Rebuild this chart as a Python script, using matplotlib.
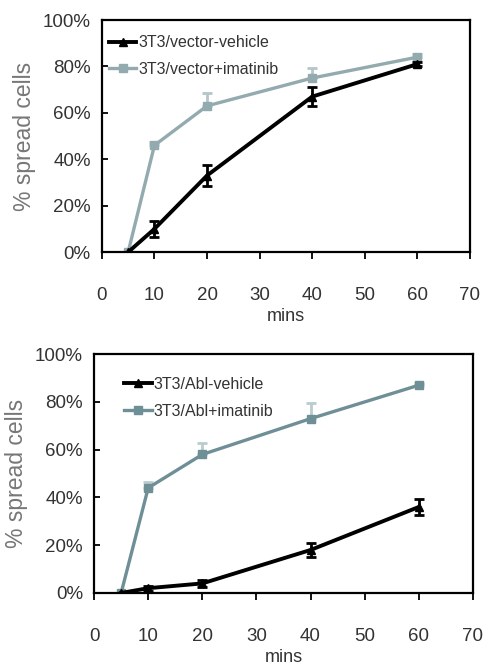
import matplotlib
matplotlib.use("Agg")
import matplotlib.pyplot as plt
from matplotlib.lines import Line2D
from matplotlib.ticker import PercentFormatter

FONT = "Liberation Sans"

# ---- data ----
mins = [5, 10, 20, 40, 60]

top_labels = ["3T3/vector-vehicle", "3T3/vector+imatinib"]
top_vehicle = [0, 10, 33, 67, 81]
top_vehicle_err = [0, 3.5, 4.5, 4, 1]
top_imatinib = [0, 46, 63, 75, 84]
top_imatinib_err = [0, 1.5, 5.5, 4.5, 1.5]

bot_labels = ["3T3/Abl-vehicle", "3T3/Abl+imatinib"]
bot_vehicle = [0, 2, 4, 18, 36]
bot_vehicle_err = [0, 1, 1.5, 3, 3.5]
bot_imatinib = [0, 44, 58, 73, 87]
bot_imatinib_err = [0, 2.5, 5, 6.5, 1]

xticks = [0, 10, 20, 30, 40, 50, 60, 70]
yticks = [0, 20, 40, 60, 80, 100]

fig = plt.figure(figsize=(4.85, 6.67), dpi=100)
ax1 = fig.add_axes([0.210, 0.622, 0.759, 0.348])
ax2 = fig.add_axes([0.194, 0.111, 0.781, 0.358])


def draw(ax, veh, veh_err, ima, ima_err, labels, gray, gray_err, leg_anchor):
    ax.errorbar(mins, ima, yerr=[[0] * len(ima_err), ima_err], color=gray,
                ecolor=gray_err, elinewidth=2, capsize=3.5, capthick=2,
                lw=2.4, marker="s", ms=6, zorder=2)
    ax.errorbar(mins, veh, yerr=veh_err, color="black", ecolor="black",
                elinewidth=2, capsize=3.5, capthick=2, lw=2.8, marker="^",
                ms=6, zorder=3)
    ax.set_xlim(0, 70)
    ax.set_ylim(0, 100)
    ax.set_xticks(xticks)
    ax.set_yticks(yticks)
    ax.yaxis.set_major_formatter(PercentFormatter(decimals=0))
    for s in ax.spines.values():
        s.set_linewidth(1.6)
        s.set_color("black")
    ax.tick_params(axis="x", direction="out", length=5, width=1.3,
                   pad=20, labelsize=13.5, labelcolor="#333333")
    ax.tick_params(axis="y", direction="in", length=4, width=1.3,
                   pad=8, labelsize=13.5, labelcolor="#333333")
    for t in ax.get_xticklabels() + ax.get_yticklabels():
        t.set_fontfamily(FONT)
    ax.set_xlabel("mins", fontsize=13, family=FONT, color="#333333",
                  labelpad=3)
    ax.set_ylabel("% spread cells", fontsize=16.5, family=FONT,
                  color="#777777", labelpad=5)
    handles = [
        Line2D([], [], color="black", lw=2.8, marker="^", ms=6),
        Line2D([], [], color=gray, lw=2.4, marker="s", ms=6),
    ]
    leg = ax.legend(handles, labels, loc="upper left",
                    bbox_to_anchor=leg_anchor, frameon=False, borderpad=0,
                    borderaxespad=0, handlelength=1.7, handletextpad=0.15,
                    labelspacing=0.75, prop={"family": FONT, "size": 11.5})
    for t in leg.get_texts():
        t.set_color("#333333")


draw(ax1, top_vehicle, top_vehicle_err, top_imatinib, top_imatinib_err,
     top_labels, "#93aaaf", "#b3c6ca", (0.02, 0.935))
draw(ax2, bot_vehicle, bot_vehicle_err, bot_imatinib, bot_imatinib_err,
     bot_labels, "#6f8f96", "#b9cccf", (0.08, 0.905))

fig.savefig("out.png", dpi=100)
